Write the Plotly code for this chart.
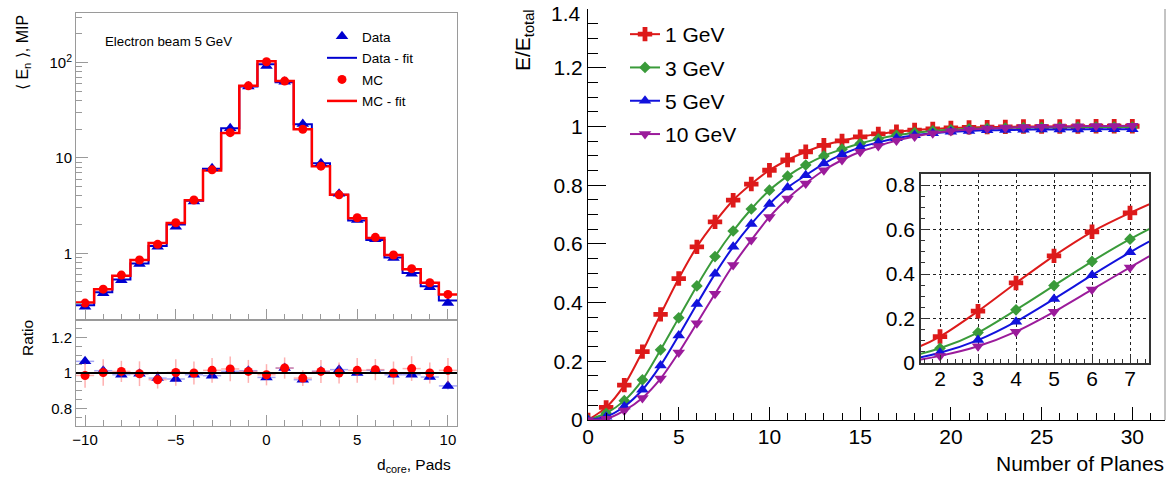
import numpy as np
import plotly.graph_objects as go

# ---------------- Left panel data ----------------
d_core = list(range(-10, 11))
data_vals = [0.275, 0.38, 0.52, 0.77, 1.17, 1.9, 3.5, 7.8, 20.5, 56, 92, 63, 22.7, 8.8, 4.2, 2.23, 1.4, 0.89, 0.61, 0.44, 0.30]
mc_vals = [0.30, 0.42, 0.59, 0.85, 1.24, 2.09, 3.62, 7.5, 18.4, 57, 102, 64, 20, 8.2, 4.1, 2.36, 1.47, 0.96, 0.69, 0.49, 0.37]
data_fit = [0.285, 0.39, 0.53, 0.78, 1.19, 2.0, 3.55, 7.7, 20.5, 56, 96, 62, 22.5, 8.8, 4.1, 2.2, 1.38, 0.9, 0.62, 0.45, 0.32]
mc_fit = [0.305, 0.42, 0.58, 0.85, 1.28, 2.08, 3.6, 7.4, 18.2, 57, 103, 64, 20, 8.2, 4.1, 2.33, 1.45, 0.96, 0.68, 0.49, 0.37]
ratio_data = [1.066, 1.013, 0.99, 0.996, 0.971, 0.966, 0.99, 0.985, 1.01, 1.013, 0.975, 1.028, 0.962, 1.01, 1.019, 1.0, 1.015, 0.99, 0.99, 0.977, 0.927]
ratio_mc = [0.986, 1.003, 1.009, 0.996, 0.962, 1.003, 1.0, 1.015, 1.023, 1.009, 0.99, 1.028, 0.971, 1.009, 1.0, 1.015, 1.019, 1.0, 1.025, 1.0, 1.015]
ratio_mc_err = [0.07, 0.075, 0.06, 0.07, 0.05, 0.075, 0.065, 0.07, 0.07, 0.065, 0.06, 0.06, 0.045, 0.065, 0.06, 0.07, 0.06, 0.065, 0.07, 0.06, 0.07]
ratio_data_err = [0.02, 0.015, 0.012, 0.012, 0.01, 0.01, 0.01, 0.01, 0.01, 0.01, 0.01, 0.01, 0.01, 0.01, 0.01, 0.01, 0.01, 0.012, 0.012, 0.015, 0.02]

# ---------------- Right panel data ----------------
planes = list(range(0, 31))
e_1gev = [0, 0.043, 0.119, 0.233, 0.36, 0.482, 0.59, 0.675, 0.749, 0.804, 0.851, 0.886, 0.914, 0.936, 0.951,
          0.965, 0.975, 0.982, 0.988, 0.992, 0.995, 0.997, 0.998, 0.999, 1.0, 1.0, 1.0, 1.0, 1.001, 1.001, 1.001]
e_3gev = [0, 0.023, 0.066, 0.137, 0.239, 0.348, 0.457, 0.557, 0.644, 0.719, 0.783, 0.831, 0.869, 0.9, 0.923,
          0.942, 0.958, 0.97, 0.979, 0.985, 0.989, 0.992, 0.994, 0.995, 0.996, 0.997, 0.997, 0.998, 0.998, 0.998, 0.998]
e_5gev = [0, 0.011, 0.046, 0.103, 0.186, 0.288, 0.395, 0.498, 0.59, 0.668, 0.736, 0.792, 0.834, 0.874, 0.905,
          0.929, 0.946, 0.96, 0.97, 0.977, 0.982, 0.985, 0.987, 0.988, 0.989, 0.99, 0.99, 0.99, 0.991, 0.991, 0.991]
e_10gev = [0, 0.004, 0.032, 0.075, 0.141, 0.23, 0.33, 0.43, 0.528, 0.613, 0.692, 0.755, 0.806, 0.851, 0.886,
           0.914, 0.934, 0.952, 0.966, 0.977, 0.985, 0.99, 0.993, 0.996, 0.998, 0.999, 1.0, 1.001, 1.002, 1.002, 1.003]
energy_labels = ["1 GeV", "3 GeV", "5 GeV", "10 GeV"]
right_yticks = [0, 0.2, 0.4, 0.6, 0.8, 1.0, 1.2, 1.4]
right_yticktext = ["0", "0.2", "0.4", "0.6", "0.8", "1", "1.2", ""]

FONT = "Liberation Sans, Arial, sans-serif"
W, H = 1174, 477
def px_x(p): return p / W
def px_y(p): return 1 - p / H

BLUE = "#0000d0"
RED = "#ff0000"
GRAY = "#9a9a9a"

fig = go.Figure()

# step histograms (bin edges derived from bin centres)
centers = np.array(d_core, dtype=float)
edges = np.append(centers - 0.5, centers[-1] + 0.5)
fig.add_trace(go.Scatter(x=edges, y=np.append(data_fit, data_fit[-1]), mode="lines", line=dict(color=BLUE, width=2, shape="hv"),
                         name="Data - fit", showlegend=False, xaxis="x", yaxis="y"))
fig.add_trace(go.Scatter(x=edges, y=np.append(mc_fit, mc_fit[-1]), mode="lines", line=dict(color=RED, width=2.5, shape="hv"),
                         name="MC - fit", showlegend=False, xaxis="x", yaxis="y"))
fig.add_trace(go.Scatter(x=d_core, y=data_vals, mode="markers", marker=dict(symbol="triangle-up", size=11, color=BLUE),
                         name="Data", showlegend=False, xaxis="x", yaxis="y"))
fig.add_trace(go.Scatter(x=d_core, y=mc_vals, mode="markers", marker=dict(symbol="circle", size=9, color=RED),
                         name="MC", showlegend=False, xaxis="x", yaxis="y"))

# legend entries for left panel
for i, (nm, mode, mk, ln) in enumerate([
        ("Data", "markers", dict(symbol="triangle-up", size=11, color=BLUE), None),
        ("Data - fit", "lines", None, dict(color=BLUE, width=2)),
        ("MC", "markers", dict(symbol="circle", size=9, color=RED), None),
        ("MC - fit", "lines", None, dict(color=RED, width=2.5))]):
    kw = dict(x=[None], y=[None], mode=mode, name=nm, legend="legend", legendgroup="l%d" % i,
              xaxis="x", yaxis="y")
    if mk: kw["marker"] = mk
    if ln: kw["line"] = ln
    if nm == "MC":
        kw["error_y"] = dict(type="data", array=[1], color=RED, thickness=1.5, width=0)
    fig.add_trace(go.Scatter(**kw))

# ratio panel
fig.add_trace(go.Scatter(x=d_core, y=ratio_data, mode="markers",
                         marker=dict(symbol="triangle-up", size=11, color=BLUE),
                         error_x=dict(type="constant", value=0.5, color="rgba(60,60,230,0.45)", thickness=1.5, width=0),
                         error_y=dict(type="data", array=ratio_data_err, color="rgba(60,60,230,0.45)", thickness=1.5, width=0),
                         showlegend=False, xaxis="x2", yaxis="y2"))
fig.add_trace(go.Scatter(x=d_core, y=ratio_mc, mode="markers",
                         marker=dict(symbol="circle", size=9, color=RED),
                         error_x=dict(type="constant", value=0.5, color="rgba(255,80,80,0.45)", thickness=1.5, width=0),
                         error_y=dict(type="data", array=ratio_mc_err, color="rgba(255,80,80,0.45)", thickness=1.5, width=0),
                         showlegend=False, xaxis="x2", yaxis="y2"))

# right panel
series = [e_1gev, e_3gev, e_5gev, e_10gev]
colors = ["#dd1a1a", "#3a9b3a", "#1212dd", "#9b1b9b"]
symbols = ["cross", "diamond", "triangle-up", "triangle-down"]
sizes = [12, 9, 11, 11]
for i in range(4):
    fig.add_trace(go.Scatter(x=planes, y=series[i], mode="lines+markers", name=energy_labels[i],
                             line=dict(color=colors[i], width=2, shape="spline", smoothing=0.8),
                             marker=dict(symbol=symbols[i], size=sizes[i], color=colors[i]),
                             legend="legend2", legendgroup="r%d" % i, xaxis="x3", yaxis="y3"))
for i in range(4):
    fig.add_trace(go.Scatter(x=planes, y=series[i], mode="lines+markers", showlegend=False,
                             line=dict(color=colors[i], width=2, shape="spline", smoothing=0.8),
                             marker=dict(symbol=symbols[i], size=sizes[i], color=colors[i]),
                             cliponaxis=True, xaxis="x4", yaxis="y4"))

left_x = [px_x(76), px_x(457)]
tickfont_l = dict(family=FONT, size=15, color="black")
tickfont_r = dict(family=FONT, size=21, color="black")

minor_log = [v * m for m in (0.1, 1, 10) for v in range(2, 10)]
minor_log = [v for v in minor_log if v <= 330] + [200, 300]

fig.update_layout(
    template="none",
    width=W, height=H, autosize=False, margin=dict(l=0, r=0, t=0, b=0, pad=0),
    paper_bgcolor="white", plot_bgcolor="white",
    font=dict(family=FONT, color="black"),
    xaxis=dict(domain=left_x, range=[-10.5, 10.5], anchor="y", showticklabels=False, automargin=False,
               showline=True, linecolor=GRAY, linewidth=1, mirror=True, showgrid=False, zeroline=False,
               ticks="inside", tickvals=[-10, -5, 0, 5, 10], ticklen=11, tickcolor=GRAY,
               minor=dict(dtick=1, ticks="inside", ticklen=6, tickcolor=GRAY)),
    yaxis=dict(domain=[px_y(320), px_y(13)], type="log", range=[-0.70, 2.52], anchor="x", automargin=False,
               showline=True, linecolor=GRAY, linewidth=1, mirror=True, showgrid=False, zeroline=False,
               ticks="inside", tickvals=[1, 10, 100], ticktext=["1", "10", "10<sup>2</sup>"], ticklen=12,
               tickcolor=GRAY, tickfont=tickfont_l,
               minor=dict(tickvals=minor_log, ticks="inside", ticklen=6, tickcolor=GRAY)),
    xaxis2=dict(domain=left_x, range=[-10.5, 10.5], anchor="y2", automargin=False,
                showline=True, linecolor=GRAY, linewidth=1, mirror=True, showgrid=False, zeroline=False,
                ticks="inside", tickvals=[-10, -5, 0, 5, 10], ticklen=11, tickcolor=GRAY, tickfont=tickfont_l,
                minor=dict(dtick=1, ticks="inside", ticklen=6, tickcolor=GRAY)),
    yaxis2=dict(domain=[px_y(426), px_y(320)], range=[0.7, 1.3], anchor="x2", automargin=False,
                showline=True, linecolor=GRAY, linewidth=1, mirror=True, showgrid=False, zeroline=False,
                ticks="inside", tickvals=[0.8, 1.0, 1.2], ticktext=["0.8", "1", "1.2"], ticklen=11,
                tickcolor=GRAY, tickfont=tickfont_l,
                minor=dict(dtick=0.05, tick0=0, ticks="inside", ticklen=6, tickcolor=GRAY)),
    xaxis3=dict(domain=[px_x(588), px_x(1165)], range=[0, 31.8], anchor="y3", automargin=False,
                showline=True, linecolor="black", linewidth=1, showgrid=False, zeroline=False,
                ticks="inside", dtick=5, tick0=0, ticklen=13, tickcolor="black", tickfont=tickfont_r,
                minor=dict(dtick=1, ticks="inside", ticklen=7, tickcolor="black")),
    yaxis3=dict(domain=[px_y(420), px_y(9)], range=[0, 1.4005], anchor="x3", automargin=False,
                showline=True, linecolor="black", linewidth=1, showgrid=False, zeroline=False,
                ticks="inside", tickvals=right_yticks, ticktext=right_yticktext, ticklen=18,
                tickcolor="black", tickfont=tickfont_r,
                minor=dict(dtick=0.05, tick0=0, ticks="inside", ticklen=10, tickcolor="black")),
    xaxis4=dict(domain=[px_x(921), px_x(1149)], range=[1.5, 7.5], anchor="y4", automargin=False,
                showline=True, linecolor="#333", linewidth=1.5, mirror=True, zeroline=False,
                showgrid=True, gridcolor="#222", griddash="dot", gridwidth=1,
                ticks="inside", dtick=1, tick0=0, ticklen=8, tickcolor="#333", tickfont=tickfont_r,
                minor=dict(dtick=0.2, ticks="inside", ticklen=4, tickcolor="#333", showgrid=False)),
    yaxis4=dict(domain=[px_y(363), px_y(174)], range=[0, 0.85], anchor="x4", automargin=False,
                showline=True, linecolor="#333", linewidth=1.5, mirror=True, zeroline=False,
                showgrid=True, gridcolor="#222", griddash="dot", gridwidth=1,
                ticks="inside", tickvals=[0, 0.2, 0.4, 0.6, 0.8], ticktext=["0", "0.2", "0.4", "0.6", "0.8"],
                ticklen=8, tickcolor="#333", tickfont=tickfont_r,
                minor=dict(dtick=0.05, tick0=0, ticks="inside", ticklen=4, tickcolor="#333", showgrid=False)),
    legend=dict(x=px_x(322), y=px_y(21), xanchor="left", yanchor="top", bgcolor="rgba(0,0,0,0)",
                font=dict(family=FONT, size=13.5), tracegroupgap=1, itemwidth=30, borderwidth=0),
    legend2=dict(x=px_x(625), y=px_y(14), xanchor="left", yanchor="top", bgcolor="rgba(0,0,0,0)",
                 font=dict(family=FONT, size=21), tracegroupgap=3, itemwidth=30, borderwidth=0),
    shapes=[
        dict(type="line", xref="x2 domain", yref="y2", x0=0, x1=1, y0=1, y1=1, line=dict(color="black", width=2)),
        dict(type="line", xref="x3 domain", yref="y3 domain", x0=1, x1=1, y0=0, y1=1, line=dict(color="#888", width=1)),
        dict(type="rect", xref="x4 domain", yref="y4 domain", x0=0, x1=1, y0=0, y1=1, layer="below",
             fillcolor="white", line=dict(width=0)),
    ],
    annotations=[
        dict(text="Electron beam 5 GeV", x=px_x(103), y=px_y(42), xref="paper", yref="paper",
             xanchor="left", yanchor="middle", showarrow=False, font=dict(family=FONT, size=13.3)),
        dict(text="⟨ E<sub>n</sub> ⟩, MIP", x=px_x(23), y=px_y(53), xref="paper", yref="paper",
             textangle=-90, xanchor="center", yanchor="middle", showarrow=False, font=dict(family=FONT, size=16)),
        dict(text="Ratio", x=px_x(27), y=px_y(338), xref="paper", yref="paper",
             textangle=-90, xanchor="center", yanchor="middle", showarrow=False, font=dict(family=FONT, size=15.5)),
        dict(text="d<sub>core</sub>, Pads", x=px_x(453), y=px_y(465), xref="paper", yref="paper",
             xanchor="right", yanchor="middle", showarrow=False, font=dict(family=FONT, size=15.5)),
        dict(text="E/E<sub>total</sub>", x=px_x(524), y=px_y(40), xref="paper", yref="paper",
             textangle=-90, xanchor="center", yanchor="middle", showarrow=False, font=dict(family=FONT, size=21)),
        dict(text="Number of Planes", x=px_x(1166), y=px_y(463), xref="paper", yref="paper",
             xanchor="right", yanchor="middle", showarrow=False, font=dict(family=FONT, size=21)),
        # top tick label of the right y axis, kept inside the page as in the original
        dict(text="1.4", x=px_x(583), y=px_y(14), xref="paper", yref="paper",
             xanchor="right", yanchor="middle", showarrow=False, font=tickfont_r),
    ],
)

# pull the x tick labels a little closer to their axes
for key, val in (("xaxis3", -2), ("xaxis4", -4), ("xaxis2", 0)):
    try:
        fig.update_layout({key: dict(ticklabelstandoff=val)})
    except Exception:
        pass

post = ("var gd=document.getElementById('{plot_id}');"
        "gd.style.position='fixed';gd.style.top='0px';gd.style.left='0px';"
        "document.body.style.margin='0';document.documentElement.style.overflow='hidden';"
        "document.body.style.overflow='hidden';")
fig.write_html("out.html", config={"displayModeBar": False, "responsive": False}, post_script=post)
